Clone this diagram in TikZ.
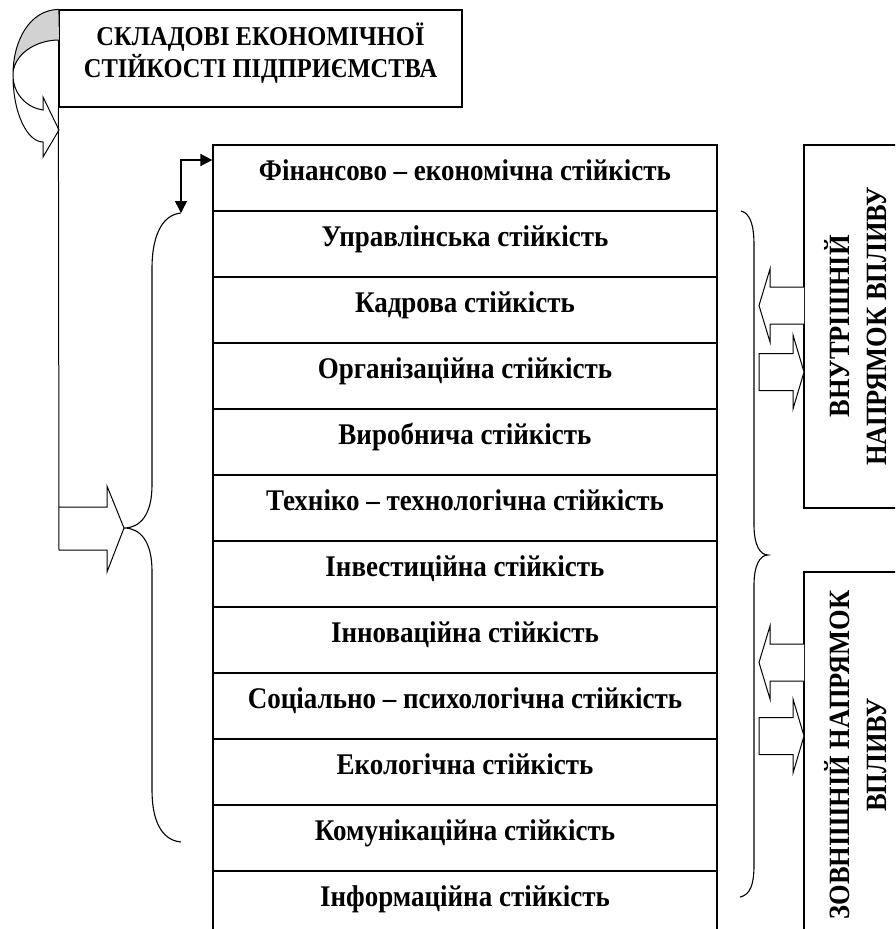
\documentclass[tikz,border=0pt]{standalone}
\usepackage{fontspec}
\setmainfont{Liberation Serif}[FakeStretch=0.9]
\usepackage{tikz}
\usetikzlibrary{arrows.meta,positioning,calc}

\tikzset{
  rowbox/.style={draw, line width=1.2pt, minimum width=504pt, minimum height=66pt, inner sep=0pt,
    text height=20pt, text depth=16pt, font=\fontsize{30}{34}\selectfont\bfseries},
  sidebox/.style={draw, line width=1.2pt, rotate=90, minimum height=103pt, inner sep=0pt, align=center,
    font=\fontsize{29.4}{37}\selectfont\bfseries},
  blockarrow/.style={draw, line width=1pt, fill=white, line join=miter},
  bracket/.style={draw, line width=1.1pt},
}

\begin{document}
\begin{tikzpicture}[x=1pt, y=-1pt]
\useasboundingbox (0,0) rectangle (895,929);
\clip (0,0) rectangle (895,929);

% Title box
\node[draw, line width=1.2pt, minimum width=403pt, minimum height=97pt] (title) at (260.5,58.5) {};
\node[align=center, font=\fontsize{27.2}{32}\selectfont\bfseries] (titletext) at (260.5,53)
  {СКЛАДОВІ ЕКОНОМІЧНОЇ\\СТІЙКОСТІ ПІДПРИЄМСТВА};

% Column of components
\foreach \txt [count=\i] in {Фінансово – економічна стійкість, Управлінська стійкість,
  Кадрова стійкість, Організаційна стійкість, Виробнича стійкість,
  Техніко – технологічна стійкість, Інвестиційна стійкість, Інноваційна стійкість,
  Соціально – психологічна стійкість, Екологічна стійкість,
  Комунікаційна стійкість, Інформаційна стійкість}
  \node[rowbox] (r\i) at (465, 112+66*\i) {\txt};

% Directions of influence
\node[sidebox, minimum width=363pt] (inner) at (855.5,326.5) {ВНУТРІШНІЙ\\НАПРЯМОК ВПЛИВУ};
\node[sidebox, minimum width=366pt] (outer) at (855.5,755) {ЗОВНІШНІЙ НАПРЯМОК\\ВПЛИВУ};

% Curved arrow from the title (grey back side)
\fill[gray!35] (title.north west) .. controls (30,10) and (13,40) .. (13,75)
  .. controls (13,55) and (35,40) .. (59,40) -- cycle;
\draw[line width=1pt, line join=miter] (title.north west) .. controls (30,10) and (13,40) .. (13,75)
  .. controls (13,115) and (28,142) .. (43,142) -- (43,157) -- (59,130) -- (43,97) -- (43,110)
  .. controls (28,108) and (13,95) .. (13,75) .. controls (13,55) and (35,40) .. (59,40);

% Bent arrow down to the left brace
\coordinate (ltip) at (124,528);
\draw[blockarrow, fill=none] (title.south west) -- (59,550) -- (107,550) -- (107,572) -- (ltip)
  -- (107,486) -- (107,507) -- (59,507);

% Left brace
\coordinate (ltop) at (181,213);
\draw[bracket] (ltop) .. controls (160,215) and (152,240) .. (152,268) -- (152,485)
  .. controls (152,515) and (140,528) .. (ltip) .. controls (140,528) and (152,541) .. (152,571)
  -- (152,790) .. controls (152,818) and (160,840) .. (181,842);
\draw[{Triangle[length=12pt,width=12pt]}-{Triangle[length=12pt,width=12pt]}, line width=1.6pt]
  (ltop) |- ($(r1.west)+(0,-18)$);

% Right brace
\draw[bracket] (741,211) .. controls (750,213) and (754,225) .. (754,245) -- (754,525)
  .. controls (754,545) and (760,555) .. (768,555) .. controls (760,555) and (754,565) .. (754,585)
  -- (754,865) .. controls (754,885) and (750,895) .. (740,897);

% Block arrows between braces and side boxes
\foreach \c in {305.5,662.5}
  \draw[blockarrow] (804,\c-18.5) -- (770,\c-18.5) -- (770,\c-36.5) -- (759,\c)
    -- (770,\c+36.5) -- (770,\c+18.5) -- (804,\c+18.5);
\foreach \c in {372,736}
  \draw[blockarrow] (759,\c-18.5) -- (793,\c-18.5) -- (793,\c-37) -- (804,\c)
    -- (793,\c+37) -- (793,\c+18.5) -- (759,\c+18.5) -- cycle;

\end{tikzpicture}
\end{document}
